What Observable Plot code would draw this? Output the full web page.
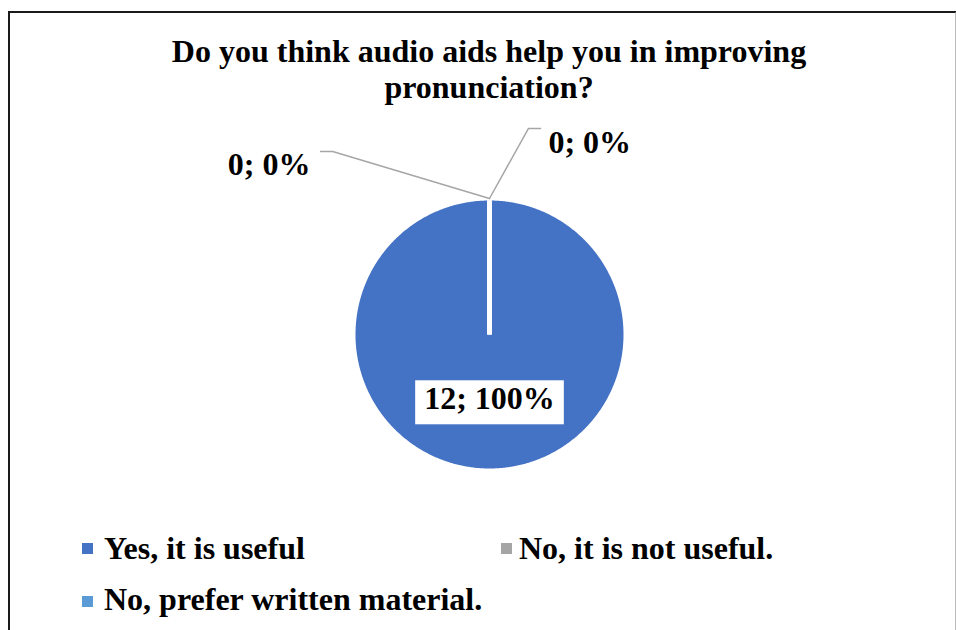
<!DOCTYPE html>
<html>
<head>
<meta charset="utf-8">
<script src="https://cdn.jsdelivr.net/npm/d3@7"></script>
<script src="https://cdn.jsdelivr.net/npm/@observablehq/plot@0.6"></script>
<style>
  html, body { margin: 0; padding: 0; width: 956px; height: 630px; overflow: hidden; background: #fff; }
  body { position: relative; font-family: "Liberation Serif", "Times New Roman", serif; font-weight: bold; color: #000; }
  #frame { position: absolute; left: 8px; top: 11px; width: 949px; height: 700px; box-sizing: border-box; border: 2px solid #1a1a1a; border-right-color: #bbb; }
  #title { position: absolute; left: 159px; width: 660px; top: 33px; font-size: 32px; line-height: 36px; text-align: center; }
  #chart { position: absolute; left: 0; top: 0; }
  .legend-item { position: absolute; font-size: 32px; line-height: 36px; white-space: nowrap; }
  .legend-swatch { position: absolute; width: 11px; height: 11px; }
</style>
</head>
<body>
<div id="frame"></div>
<div id="chart"></div>
<div id="title">Do you think audio aids help you in improving pronunciation?</div>
<div id="legend"></div>
<script>
// ---- data ----
const categories = ["Yes, it is useful", "No, it is not useful.", "No, prefer written material."];
const counts = [12, 0, 0];
const colors = ["#4472C4", "#A5A5A5", "#5B9BD5"];
const chartTitle = "Do you think audio aids help you in improving pronunciation?";

document.getElementById("title").textContent = chartTitle;

const total = d3.sum(counts);
const rows = categories.map((c, i) => ({
  cat: c,
  value: counts[i],
  label: `${counts[i]}; ${Math.round(counts[i] / total * 100)}%`
}));

// Excel pie: starts at 12 o'clock, clockwise
const arcs = d3.pie().sort(null).value(d => d.value).startAngle(0).endAngle(2 * Math.PI)(rows);

// polygon points of each slice (angle measured clockwise from top)
const polyPts = [];
for (const a of arcs) {
  if (a.endAngle - a.startAngle <= 0) continue;
  polyPts.push({cat: a.data.cat, x: 0, y: 0});
  const n = Math.max(2, Math.ceil((a.endAngle - a.startAngle) / (Math.PI / 360)));
  for (let k = 0; k <= n; k++) {
    const t = a.startAngle + (a.endAngle - a.startAngle) * k / n;
    polyPts.push({cat: a.data.cat, x: Math.sin(t), y: Math.cos(t)});
  }
  polyPts.push({cat: a.data.cat, x: 0, y: 0});
}

// slice borders (white separators)
const borders = arcs.map(a => ({x2: Math.sin(a.startAngle), y2: Math.cos(a.startAngle)}));

// labels: large slices inside, zero slices outside with leader lines
const inside = arcs.filter(a => a.value > 0).map(a => {
  const m = (a.startAngle + a.endAngle) / 2;
  return {label: a.data.label, x: Math.sin(m) * 0.478, y: Math.cos(m) * 0.478};
});
// layout offsets for outside labels (in radius units)
const outsideLayout = [
  {elbow: [-1.17, 1.366], end: [-1.26, 1.366], text: [-1.336, 1.269], anchor: "end"},
  {elbow: [0.29, 1.537], end: [0.381, 1.537], text: [0.44, 1.429], anchor: "start"}
];
const zeroArcs = arcs.filter(a => a.value === 0);
const leaders = [];
const outside = [];
zeroArcs.forEach((a, i) => {
  const L = outsideLayout[i % outsideLayout.length];
  const m = (a.startAngle + a.endAngle) / 2;
  leaders.push({id: i, x: Math.sin(m) * 1.015, y: Math.cos(m) * 1.015});
  leaders.push({id: i, x: L.elbow[0], y: L.elbow[1]});
  leaders.push({id: i, x: L.end[0], y: L.end[1]});
  outside.push({label: a.data.label, x: L.text[0], y: L.text[1], anchor: L.anchor});
});

const font = {fontFamily: "Liberation Serif, Times New Roman, serif", fontSize: 32, fontWeight: "bold"};

const plot = Plot.plot({
  width: 956,
  height: 630,
  margin: 0,
  style: {background: "transparent", overflow: "visible"},
  x: {domain: [-1, 1], range: [355, 623], axis: null},
  y: {domain: [-1, 1], range: [468, 200], axis: null},
  color: {domain: categories, range: colors},
  marks: [
    Plot.line(polyPts, {x: "x", y: "y", z: "cat", fill: "cat", stroke: "none", curve: "linear"}),
    Plot.link(borders, {x1: 0, y1: 0, x2: "x2", y2: "y2", stroke: "#fff", strokeWidth: 4.5}),
    Plot.line(leaders, {x: "x", y: "y", z: "id", stroke: "#A6A6A6", strokeWidth: 1.5, curve: "linear"}),
    Plot.text(outside.filter(d => d.anchor === "end"), {x: "x", y: "y", text: "label", textAnchor: "end", fill: "#000", ...font}),
    Plot.text(outside.filter(d => d.anchor === "start"), {x: "x", y: "y", text: "label", textAnchor: "start", fill: "#000", ...font}),
    Plot.text(inside, {x: "x", y: "y", text: "label", fill: "#000", className: "inside-label", ...font})
  ]
});
document.getElementById("chart").appendChild(plot);

// white box behind inside labels
plot.querySelectorAll(".inside-label text").forEach(t => {
  const b = t.getBBox();
  const r = document.createElementNS("http://www.w3.org/2000/svg", "rect");
  r.setAttribute("x", b.x - 9);
  r.setAttribute("y", b.y + 0.5);
  r.setAttribute("width", b.width + 18);
  r.setAttribute("height", b.height + 8);
  r.setAttribute("fill", "#fff");
  const tr = t.getAttribute("transform");
  if (tr) r.setAttribute("transform", tr);
  t.parentNode.insertBefore(r, t);
});

// legend
const legendPos = [
  {sx: 82, sy: 543, tx: 104, ty: 530},
  {sx: 501, sy: 543, tx: 519, ty: 530},
  {sx: 82, sy: 596, tx: 104, ty: 581}
];
const legend = document.getElementById("legend");
categories.forEach((c, i) => {
  const p = legendPos[i];
  const sw = document.createElement("div");
  sw.className = "legend-swatch";
  sw.style.left = p.sx + "px";
  sw.style.top = p.sy + "px";
  sw.style.background = colors[i];
  legend.appendChild(sw);
  const tx = document.createElement("div");
  tx.className = "legend-item";
  tx.style.left = p.tx + "px";
  tx.style.top = p.ty + "px";
  tx.textContent = c;
  legend.appendChild(tx);
});
</script>
</body>
</html>
